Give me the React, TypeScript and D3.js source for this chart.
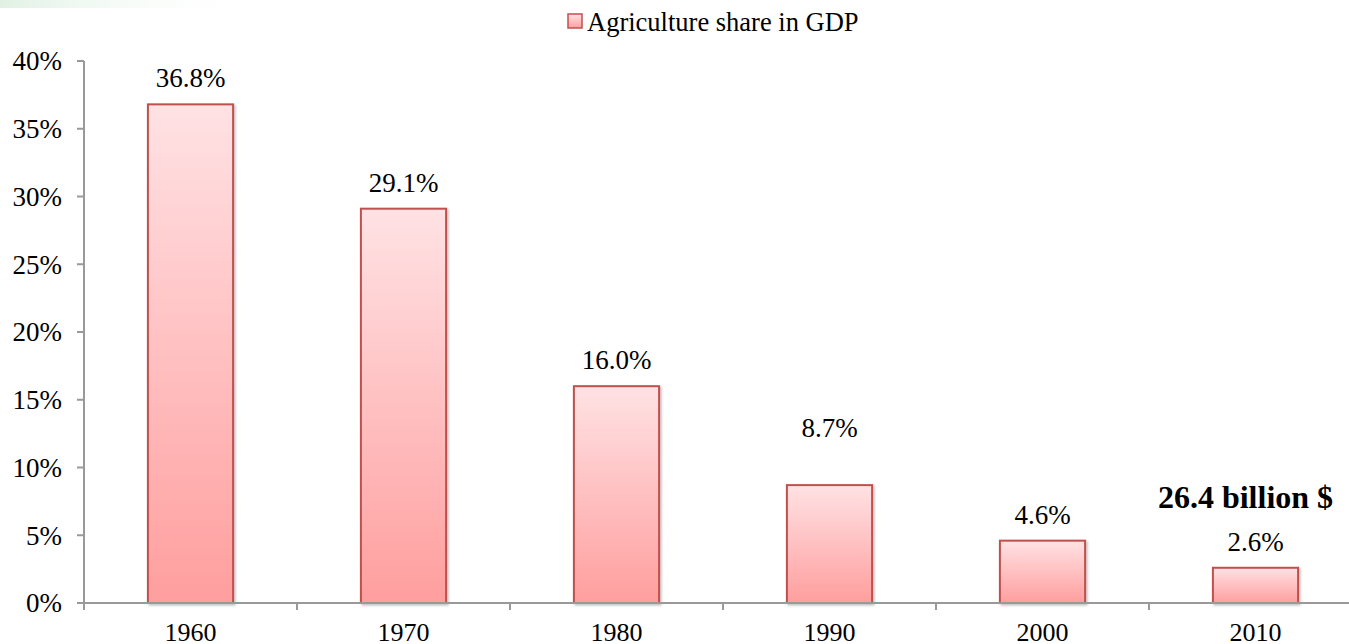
import React from "react";
import * as d3 from "d3";

const width = 1349;
const height = 644;
const margin = { top: 61, right: -13, bottom: 41, left: 84 };

const years = ["1960", "1970", "1980", "1990", "2000", "2010"];
const agriShare = [36.8, 29.1, 16.0, 8.7, 4.6, 2.6];
const yTicks = [0, 5, 10, 15, 20, 25, 30, 35, 40];
const seriesName = "Agriculture share in GDP";
const note = "26.4 billion $";

// the 1990 label sits higher than the others in the original
const labelNudge: Record<string, number> = { "1990": 31 };

const txt: React.CSSProperties = { fontFamily: "Liberation Serif, DejaVu Serif, serif" };

export default function App() {
  const x = d3
    .scaleBand()
    .domain(years)
    .range([margin.left, width - margin.right])
    .paddingInner(0)
    .paddingOuter(0);
  const y = d3
    .scaleLinear()
    .domain([0, 40])
    .range([height - margin.bottom, margin.top]);

  const bw = x.bandwidth() * 0.4;
  const y0 = y(0);
  const lastYear = years[years.length - 1];

  return (
    <svg
      width={width}
      height={height}
      style={{ position: "absolute", left: 0, top: 0, background: "#fff" }}
    >
      <defs>
        <linearGradient id="barFill" x1="0" y1="0" x2="0" y2="1">
          <stop offset="0%" stopColor="#FFE2E4" />
          <stop offset="100%" stopColor="#FF9E9E" />
        </linearGradient>
        <linearGradient id="corner" x1="0" y1="0" x2="1" y2="0">
          <stop offset="0%" stopColor="#d8eedd" stopOpacity={0.8} />
          <stop offset="100%" stopColor="#ffffff" stopOpacity={0} />
        </linearGradient>
        <filter id="shadow" x="-10%" y="-10%" width="130%" height="130%">
          <feDropShadow dx="1.5" dy="1.5" stdDeviation="1.2" floodColor="#000" floodOpacity="0.25" />
        </filter>
      </defs>

      <rect x={0} y={0} width={260} height={8} fill="url(#corner)" />

      {/* legend */}
      <rect x={568} y={14} width={14} height={14} fill="url(#barFill)" stroke="#C0504D" strokeWidth={1.5} />
      <text x={587} y={31} fontSize={26.5} fill="#000" style={txt}>
        {seriesName}
      </text>

      {/* y axis */}
      <line x1={margin.left} x2={margin.left} y1={y(40)} y2={y0} stroke="#999" strokeWidth={2} />
      {yTicks.map((t) => (
        <g key={t}>
          <line x1={margin.left - 7} x2={margin.left} y1={y(t)} y2={y(t)} stroke="#999" strokeWidth={2} />
          <text x={62} y={y(t)} dy="0.35em" textAnchor="end" fontSize={27} fill="#000" style={txt}>
            {t}%
          </text>
        </g>
      ))}

      {/* bars */}
      {years.map((yr, i) => {
        const cx = (x(yr) as number) + x.bandwidth() / 2;
        return (
          <g key={yr}>
            <rect
              x={cx - bw / 2}
              y={y(agriShare[i])}
              width={bw}
              height={y0 - y(agriShare[i])}
              fill="url(#barFill)"
              stroke="#C0504D"
              strokeWidth={2}
              filter="url(#shadow)"
            />
            <text
              x={cx}
              y={y(agriShare[i]) - 17 - (labelNudge[yr] || 0)}
              textAnchor="middle"
              fontSize={27}
              fill="#000"
              style={txt}
            >
              {agriShare[i].toFixed(1)}%
            </text>
            <text x={cx} y={641} textAnchor="middle" fontSize={26} fill="#000" style={txt}>
              {yr}
            </text>
          </g>
        );
      })}

      {/* x axis */}
      <line x1={margin.left} x2={width} y1={y0} y2={y0} stroke="#999" strokeWidth={2} />
      {years.map((yr) => (
        <line
          key={yr}
          x1={x(yr) as number}
          x2={x(yr) as number}
          y1={y0}
          y2={y0 + 7}
          stroke="#999"
          strokeWidth={2}
        />
      ))}

      <text
        x={(x(lastYear) as number) + x.bandwidth() / 2 - 10}
        y={508}
        textAnchor="middle"
        fontSize={32}
        fontWeight="bold"
        fill="#000"
        style={txt}
      >
        {note}
      </text>
    </svg>
  );
}
